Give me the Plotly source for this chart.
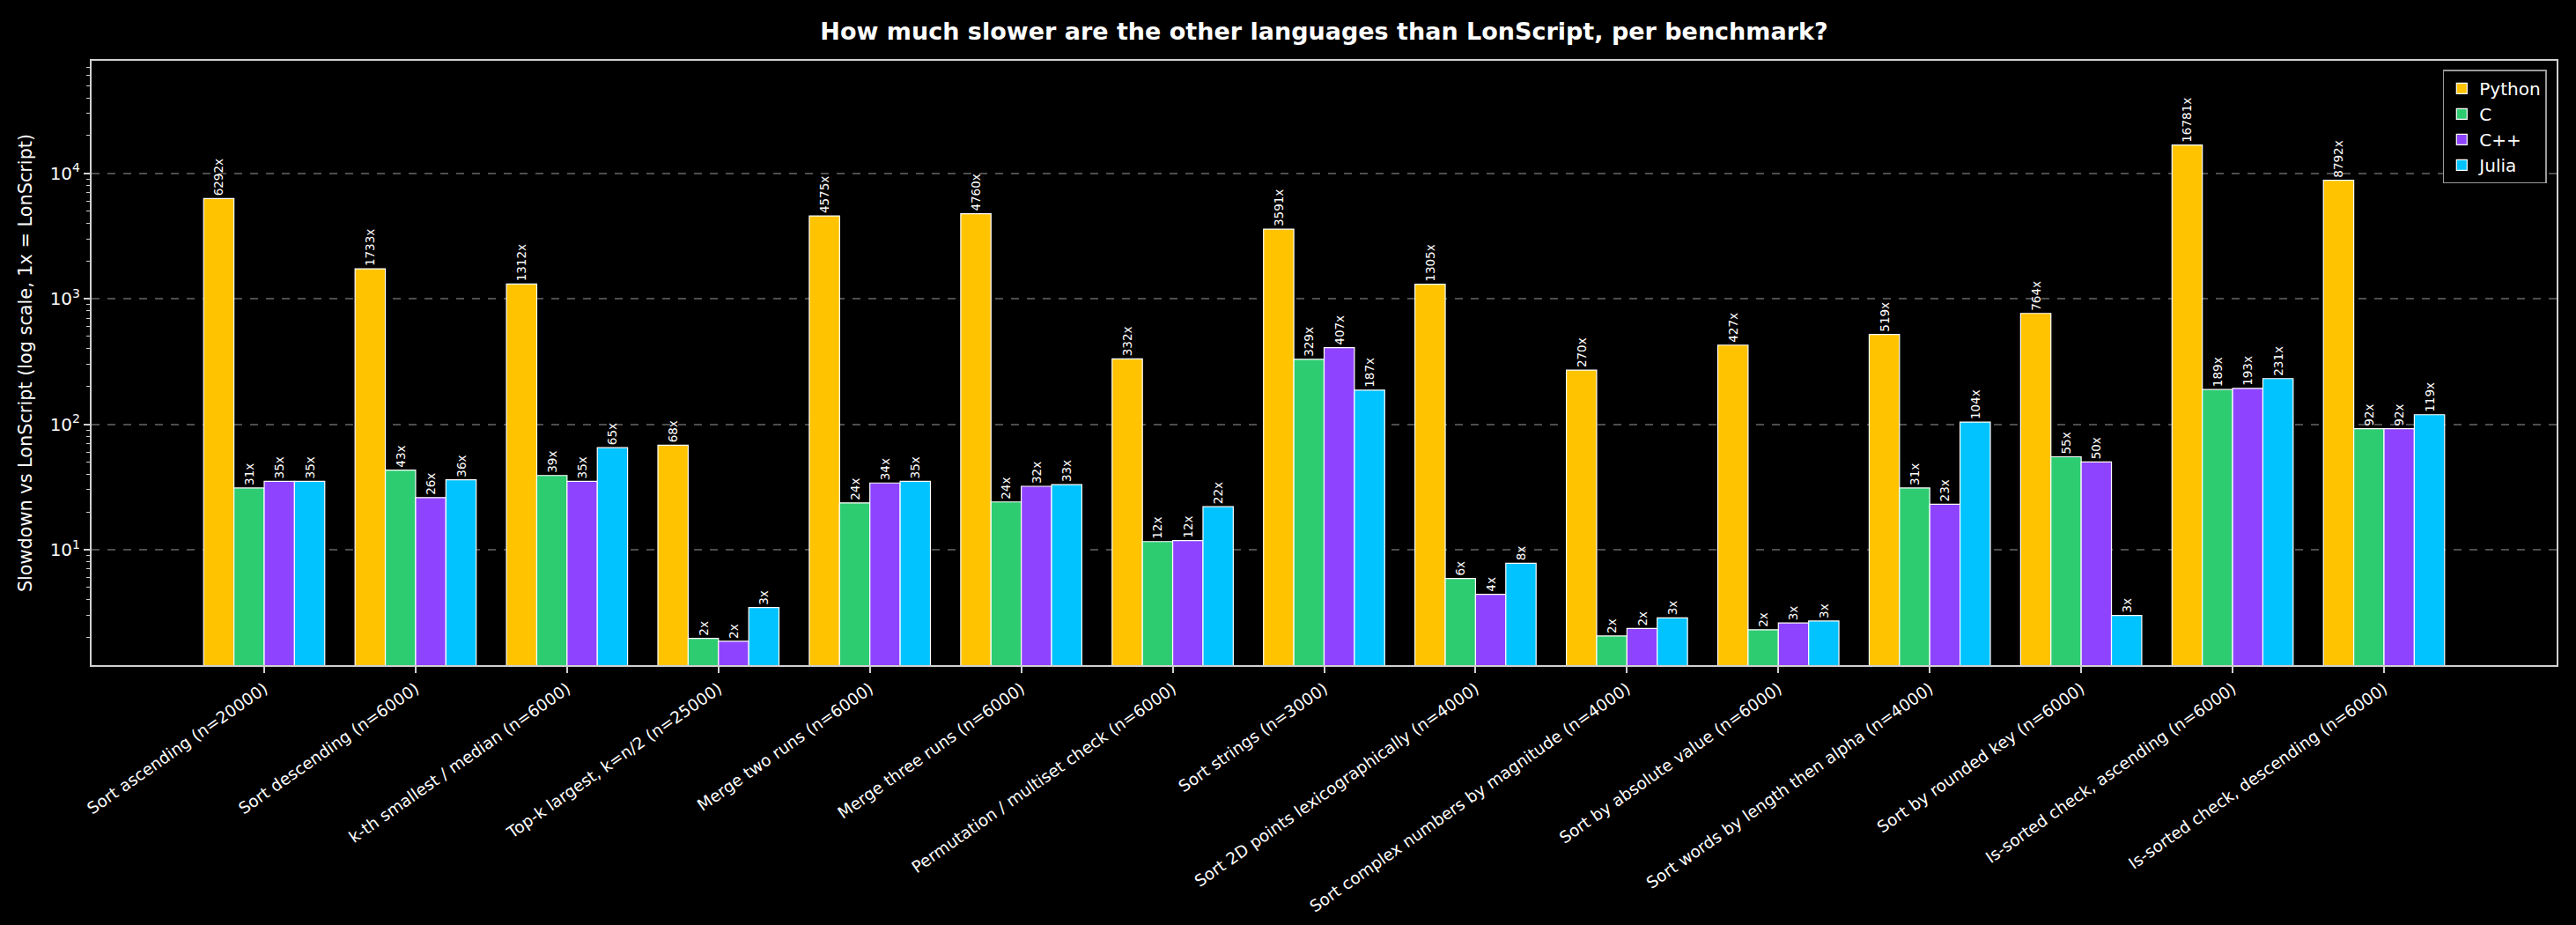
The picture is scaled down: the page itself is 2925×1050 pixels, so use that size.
import plotly.graph_objects as go

benchmarks = [
    "Sort ascending (n=20000)",
    "Sort descending (n=6000)",
    "k-th smallest / median (n=6000)",
    "Top-k largest, k=n/2 (n=25000)",
    "Merge two runs (n=6000)",
    "Merge three runs (n=6000)",
    "Permutation / multiset check (n=6000)",
    "Sort strings (n=3000)",
    "Sort 2D points lexicographically (n=4000)",
    "Sort complex numbers by magnitude (n=4000)",
    "Sort by absolute value (n=6000)",
    "Sort words by length then alpha (n=4000)",
    "Sort by rounded key (n=6000)",
    "Is-sorted check, ascending (n=6000)",
    "Is-sorted check, descending (n=6000)",
]

python_vals = [6292, 1733, 1312, 68, 4575, 4760, 332, 3591, 1305, 270, 427, 519, 764, 16781, 8792]
c_vals = [31, 43, 39, 1.96, 23.6, 24, 11.6, 329, 5.9, 2.05, 2.3, 31, 55, 189, 92]
cpp_vals = [35, 26, 35, 1.86, 34, 32, 11.8, 407, 4.4, 2.35, 2.6, 23, 50, 193, 92]
julia_vals = [35, 36, 65, 3.45, 35, 33, 22, 187, 7.8, 2.86, 2.7, 104, 2.99, 231, 119]

series_names = ["Python", "C", "C++", "Julia"]
series_colors = ["#FFC300", "#2ECC71", "#8E44FF", "#00C3FF"]
series_values = [python_vals, c_vals, cpp_vals, julia_vals]

ytick_vals = [10, 100, 1000, 10000]
ytick_text = ["10<sup>1</sup>", "10<sup>2</sup>", "10<sup>3</sup>", "10<sup>4</sup>"]
minor_vals = [m * 10 ** e for e in range(0, 5) for m in range(2, 10)]

fig = go.Figure()
for name, color, vals in zip(series_names, series_colors, series_values):
    fig.add_trace(go.Bar(
        name=name,
        x=list(range(len(benchmarks))),
        y=vals,
        marker=dict(color=color, line=dict(color="white", width=1.2)),
        text=[f"{v:.0f}x" for v in vals],
        textposition="outside",
        textangle=-90,
        textfont=dict(family="DejaVu Sans", size=13.5, color="white"),
        constraintext="none",
        cliponaxis=False,
        hoverinfo="skip",
    ))

fig.update_layout(
    width=2925,
    height=1050,
    barmode="group",
    bargap=0.2,
    bargroupgap=0,
    paper_bgcolor="black",
    plot_bgcolor="black",
    font=dict(family="DejaVu Sans", color="white"),
    margin=dict(l=104, r=22, t=69, b=295, autoexpand=False),
    title=dict(
        text="<b>How much slower are the other languages than LonScript, per benchmark?</b>",
        font=dict(family="DejaVu Sans", size=27, color="white"),
        x=0.5,
        xref="paper",
        xanchor="center",
        y=1 - 36 / 1050,
        yanchor="middle",
    ),
    legend=dict(
        x=0.996, y=0.985, xanchor="right", yanchor="top",
        bgcolor="black", bordercolor="#9a9a9a", borderwidth=1.5,
        font=dict(family="DejaVu Sans", size=20, color="white"),
    ),
    showlegend=True,
)

fig.update_xaxes(
    tickmode="array",
    tickvals=list(range(len(benchmarks))),
    ticktext=benchmarks,
    tickangle=-35,
    tickfont=dict(family="DejaVu Sans", size=18.5, color="white"),
    range=[-1.14, len(benchmarks) - 1 + 1.14],
    showgrid=False,
    zeroline=False,
    showline=True,
    linecolor="#d0d0d0",
    linewidth=2,
    mirror=True,
    ticks="outside",
    ticklen=7,
    tickwidth=1.5,
    tickcolor="#d0d0d0",
)

fig.update_yaxes(
    type="log",
    range=[0.0794, 4.897],
    tickmode="array",
    tickvals=ytick_vals,
    ticktext=ytick_text,
    tickfont=dict(family="DejaVu Sans", size=20, color="white"),
    title=dict(text="Slowdown vs LonScript (log scale, 1x = LonScript)",
               font=dict(family="DejaVu Sans", size=20.8, color="white"),
               standoff=14),
    showgrid=True,
    gridcolor="rgba(255,255,255,0.3)",
    griddash="dash",
    gridwidth=1.5,
    zeroline=False,
    showline=True,
    linecolor="#d0d0d0",
    linewidth=2,
    mirror=True,
    ticks="outside",
    ticklen=7,
    tickwidth=1.5,
    tickcolor="#d0d0d0",
    minor=dict(
        tickmode="array",
        tickvals=minor_vals,
        ticks="outside",
        ticklen=4,
        tickwidth=1,
        tickcolor="#d0d0d0",
        showgrid=False,
    ),
)

fig.write_html(
    "out.html",
    config={"displayModeBar": False},
    post_script="document.body.style.margin='0';document.body.style.background='black';",
)
